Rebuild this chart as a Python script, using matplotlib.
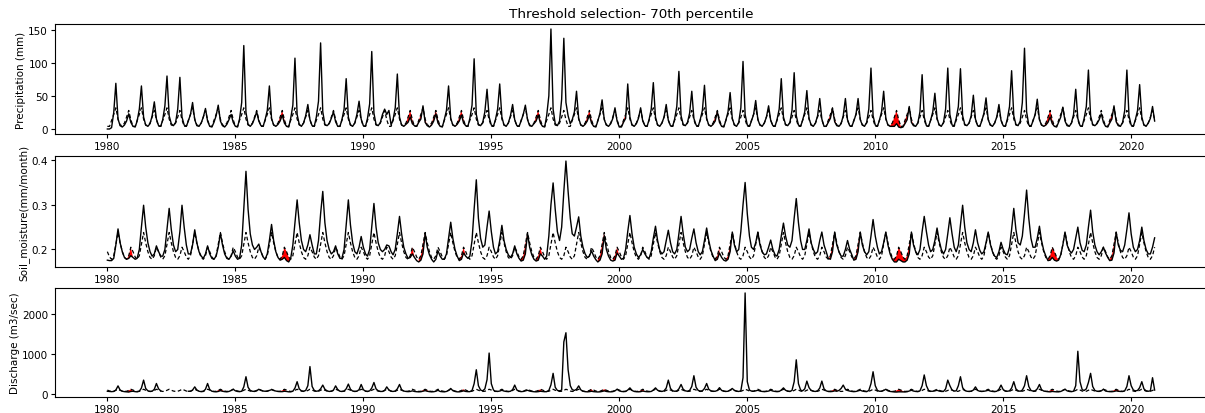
import numpy as np
import pandas as pd
import matplotlib
matplotlib.use("Agg")
import matplotlib.pyplot as plt
import matplotlib.dates as mdates
import matplotlib.ticker as mticker

nan = np.nan

# monthly values, one row per year 1980..2020 (Jan..Dec)
precip_mm = [
    [0, 0, 2, 25, 69, 15, 5, 3, 6, 12, 23, 10],  # 1980
    [4, 3, 12, 30, 65, 18, 6, 4, 8, 20, 41, 15],
    [5, 4, 14, 35, 80, 20, 8, 5, 10, 30, 78, 18],
    [6, 4, 12, 22, 40, 14, 5, 4, 9, 18, 31, 12],
    [4, 3, 10, 20, 36, 12, 5, 3, 7, 14, 22, 10],
    [4, 3, 15, 40, 126, 25, 7, 4, 8, 16, 26, 12],  # 1985
    [5, 4, 14, 28, 65, 16, 6, 4, 7, 12, 21, 9],
    [4, 3, 16, 36, 107, 22, 7, 4, 9, 20, 37, 14],
    [5, 4, 18, 42, 130, 26, 7, 5, 8, 16, 26, 11],
    [4, 4, 14, 30, 76, 18, 6, 4, 9, 22, 42, 15],
    [5, 4, 16, 38, 117, 24, 7, 5, 10, 22, 30, 22],  # 1990
    [28, 6, 14, 32, 83, 18, 6, 4, 7, 10, 18, 8],
    [5, 4, 10, 15, 35, 10, 5, 3, 6, 12, 23, 9],
    [4, 3, 14, 28, 65, 16, 6, 4, 7, 12, 21, 9],
    [5, 4, 16, 36, 106, 22, 7, 5, 10, 26, 60, 18],
    [6, 4, 14, 30, 68, 18, 6, 4, 9, 20, 37, 14],  # 1995
    [5, 4, 12, 22, 36, 14, 5, 4, 8, 12, 21, 9],
    [4, 3, 20, 50, 151, 30, 8, 5, 12, 45, 137, 40],
    [20, 8, 14, 26, 57, 16, 6, 4, 7, 12, 21, 9],
    [4, 3, 12, 24, 44, 14, 6, 4, 8, 16, 32, 12],
    [3, 3, 10, 16, 68, 18, 6, 4, 8, 16, 32, 12],  # 2000
    [5, 4, 14, 30, 70, 18, 6, 4, 9, 18, 37, 13],
    [5, 4, 15, 34, 87, 20, 7, 5, 10, 24, 57, 16],
    [6, 4, 14, 28, 66, 16, 6, 4, 7, 12, 26, 10],
    [4, 3, 13, 26, 55, 16, 6, 4, 10, 32, 102, 22],
    [6, 4, 12, 22, 43, 14, 6, 4, 9, 18, 35, 13],  # 2005
    [5, 4, 14, 30, 76, 18, 7, 5, 10, 28, 85, 20],
    [6, 4, 13, 26, 58, 16, 6, 4, 9, 20, 46, 15],
    [4, 4, 10, 16, 31, 11, 5, 4, 8, 20, 46, 14],
    [5, 4, 12, 22, 46, 14, 6, 4, 10, 30, 92, 20],
    [6, 4, 13, 26, 57, 16, 6, 4, 4, 4, 8, 3],  # 2010
    [2, 3, 8, 14, 34, 10, 5, 4, 9, 26, 82, 18],
    [5, 4, 13, 26, 54, 16, 6, 4, 10, 30, 92, 22],
    [6, 5, 16, 34, 91, 20, 7, 5, 9, 20, 51, 15],
    [5, 4, 12, 24, 47, 14, 6, 4, 9, 18, 37, 13],
    [5, 4, 15, 34, 88, 20, 7, 5, 12, 40, 122, 26],  # 2015
    [6, 4, 12, 22, 45, 14, 6, 4, 6, 10, 18, 8],
    [4, 3, 10, 18, 33, 12, 5, 4, 9, 22, 60, 16],
    [5, 4, 16, 34, 89, 20, 7, 5, 8, 14, 23, 10],
    [4, 3, 9, 15, 35, 11, 5, 4, 10, 28, 89, 20],
    [6, 4, 14, 28, 67, 18, 6, 4, 9, 16, 34, 12],  # 2020
]

soil_moisture = [
    [.176, .175, .175, .18, .21, .246, .215, .195, .182, .178, .18, .186],  # 1980
    [.182, .178, .18, .2, .25, .299, .25, .215, .195, .185, .19, .208],
    [.195, .185, .185, .2, .245, .292, .245, .21, .195, .2, .24, .299],
    [.25, .21, .19, .19, .21, .244, .215, .195, .185, .18, .19, .208],
    [.19, .18, .178, .185, .205, .236, .21, .19, .18, .178, .185, .197],
    [.185, .178, .18, .21, .29, .375, .29, .235, .21, .2, .205, .212],  # 1985
    [.195, .183, .178, .19, .22, .256, .22, .195, .182, .176, .178, .182],
    [.175, .172, .18, .21, .26, .311, .26, .22, .2, .195, .21, .233],
    [.21, .19, .19, .22, .28, .33, .26, .22, .2, .19, .195, .208],
    [.19, .18, .18, .2, .255, .311, .255, .215, .195, .19, .205, .229],
    [.205, .19, .185, .2, .25, .303, .25, .215, .2, .195, .2, .21],  # 1990
    [.208, .195, .188, .2, .235, .274, .235, .205, .19, .18, .182, .19],
    [.182, .175, .172, .176, .19, .236, .205, .188, .178, .172, .178, .197],
    [.185, .178, .178, .19, .225, .261, .225, .2, .185, .175, .178, .192],
    [.185, .18, .185, .22, .29, .356, .27, .225, .205, .21, .25, .286],
    [.24, .205, .19, .195, .22, .254, .22, .2, .188, .182, .19, .208],  # 1995
    [.19, .18, .174, .176, .19, .236, .205, .188, .178, .174, .176, .19],
    [.185, .178, .185, .23, .3, .349, .29, .24, .22, .25, .33, .398],
    [.33, .27, .235, .23, .25, .273, .23, .205, .19, .182, .185, .197],
    [.185, .177, .172, .176, .19, .231, .2, .185, .176, .174, .176, .192],
    [.185, .178, .18, .2, .24, .276, .235, .205, .19, .182, .188, .2],  # 2000
    [.19, .182, .18, .195, .225, .252, .22, .198, .19, .195, .22, .243],
    [.215, .195, .19, .2, .235, .274, .235, .205, .195, .2, .225, .246],
    [.215, .195, .188, .195, .22, .248, .22, .198, .185, .175, .178, .192],
    [.182, .176, .174, .178, .195, .239, .21, .195, .2, .24, .3, .35],
    [.28, .23, .205, .2, .215, .239, .21, .195, .188, .19, .205, .221],  # 2005
    [.2, .188, .185, .2, .23, .259, .23, .21, .205, .22, .27, .314],
    [.26, .22, .2, .2, .22, .246, .215, .2, .19, .195, .22, .239],
    [.21, .195, .18, .178, .195, .239, .21, .195, .185, .185, .2, .22],
    [.2, .188, .176, .178, .195, .239, .21, .195, .188, .195, .23, .267],
    [.23, .205, .19, .195, .215, .239, .21, .19, .178, .172, .172, .178],  # 2010
    [.175, .172, .172, .176, .19, .239, .21, .195, .188, .2, .24, .274],
    [.24, .21, .195, .2, .22, .248, .22, .2, .19, .2, .235, .271],
    [.235, .205, .195, .21, .255, .299, .25, .215, .2, .195, .215, .244],
    [.215, .198, .19, .195, .215, .239, .212, .195, .185, .182, .195, .216],
    [.2, .19, .188, .205, .245, .292, .245, .215, .21, .23, .28, .333],  # 2015
    [.27, .225, .205, .205, .225, .252, .22, .198, .185, .175, .176, .182],
    [.176, .174, .176, .188, .21, .239, .21, .198, .192, .2, .225, .25],
    [.215, .198, .195, .21, .25, .288, .24, .21, .195, .188, .195, .205],
    [.192, .182, .175, .176, .192, .239, .21, .198, .195, .21, .245, .282],
    [.235, .205, .195, .2, .22, .25, .22, .2, .19, .19, .205, .226],  # 2020
]

discharge = [
    [60, 55, 50, 55, 90, 195, 90, 60, 50, 45, 40, 55],  # 1980
    [60, 50, 45, 60, 140, 340, 130, 70, 55, 60, 110, 255],
    [120, 70, nan, nan, nan, nan, nan, nan, nan, nan, nan, nan],
    [nan, nan, 60, 60, 90, 170, 90, 60, 50, 55, 110, 255],
    [100, 60, 50, 45, 55, 75, 60, 50, 45, 55, 80, 110],
    [70, 55, 50, 60, 170, 425, 160, 80, 60, 55, 70, 110],  # 1985
    [80, 65, 60, 65, 80, 100, 80, 65, 55, 50, 50, 60],
    [55, 45, 45, 60, 140, 300, 120, 70, 60, 80, 200, 680],
    [180, 80, 60, 70, 120, 215, 110, 70, 55, 60, 90, 195],
    [100, 60, 55, 65, 120, 240, 110, 65, 55, 60, 100, 230],
    [100, 60, 55, 70, 140, 280, 120, 70, 55, 55, 80, 170],  # 1990
    [90, 60, 55, 65, 120, 230, 100, 65, 55, 50, 55, 70],
    [55, 48, 45, 48, 60, 75, 60, 50, 45, 48, 60, 85],
    [55, 48, 45, 55, 80, 130, 75, 55, 45, 45, 55, 70],
    [55, 50, 50, 80, 250, 600, 200, 90, 70, 120, 350, 1020],
    [250, 90, 60, 55, 65, 85, 65, 55, 50, 60, 100, 215],  # 1995
    [90, 60, 50, 55, 70, 85, 65, 55, 48, 45, 50, 60],
    [55, 48, 50, 80, 220, 510, 160, 80, 70, 90, 1300, 1530],
    [600, 200, 100, 80, 110, 195, 95, 60, 50, 45, 50, 60],
    [50, 45, 42, 45, 55, 70, 55, 48, 45, 50, 70, 110],
    [70, 55, 50, 55, 90, 145, 80, 55, 48, 45, 50, 65],  # 2000
    [55, 48, 48, 55, 90, 145, 85, 60, 55, 70, 140, 340],
    [130, 70, 60, 65, 120, 230, 110, 70, 60, 80, 180, 450],
    [160, 80, 65, 70, 130, 255, 110, 70, 60, 60, 80, 150],
    [80, 60, 55, 60, 90, 130, 80, 60, 55, 70, 400, 2530],
    [300, 90, 65, 60, 70, 85, 65, 55, 50, 55, 65, 85],  # 2005
    [65, 55, 50, 55, 90, 145, 85, 60, 55, 80, 300, 850],
    [250, 90, 70, 120, 315, 150, 80, 60, 55, 70, 140, 315],
    [120, 70, 55, 50, 55, 70, 60, 80, 130, 215, 110, 80],
    [65, 55, 50, 55, 70, 85, 65, 55, 50, 80, 250, 550],
    [200, 80, 60, 60, 80, 110, 70, 55, 48, 42, 40, 45],  # 2010
    [45, 42, 42, 48, 65, 85, 65, 55, 50, 70, 200, 470],
    [200, 80, 60, 60, 70, 85, 65, 55, 55, 120, 340, 200],
    [90, 65, 70, 200, 425, 150, 80, 60, 55, 60, 90, 170],
    [80, 60, 55, 60, 70, 85, 65, 55, 50, 60, 110, 215],
    [100, 65, 60, 70, 140, 300, 120, 70, 60, 90, 200, 450],  # 2015
    [180, 80, 65, 70, 120, 230, 100, 65, 55, 48, 45, 55],
    [50, 45, 45, 55, 80, 110, 70, 55, 50, 60, 200, 1065],
    [300, 100, 80, 120, 280, 510, 180, 80, 60, 55, 70, 110],
    [65, 55, 50, 48, 55, 70, 60, 55, 55, 70, 180, 450],
    [200, 90, 70, 80, 150, 300, 120, 70, 60, 70, 400, 90],  # 2020
]

# 70th percentile threshold per calendar month (Jan..Dec)
precip_thr = [4, 4, 13, 22, 32, 15, 6, 5, 9, 18, 28, 14]
soil_thr = [.195, .183, .178, .186, .212, .238, .215, .195, .182, .178, .186, .205]
discharge_thr = [90, 65, 55, 60, 85, 110, 85, 65, 55, 60, 80, 110]

# drought events (shaded red below the threshold)
precip_events = [("1986-09", "1986-12"), ("1991-09", "1991-12"), ("1992-02", "1992-06"),
                 ("1992-09", "1992-12"), ("1993-09", "1993-12"), ("1996-09", "1996-12"),
                 ("1998-09", "1998-12"), ("2000-02", "2000-06"), ("2003-09", "2003-12"),
                 ("2008-02", "2008-06"), ("2010-08", "2011-06"), ("2016-09", "2016-12"),
                 ("2019-02", "2019-06")]
soil_events = [("1980-10", "1980-12"), ("1986-10", "1987-02"), ("1991-10", "1991-12"),
               ("1992-03", "1992-06"), ("1993-10", "1993-12"), ("1996-03", "1996-06"),
               ("1996-10", "1996-12"), ("1999-03", "1999-06"), ("1999-10", "1999-12"),
               ("2003-10", "2003-12"), ("2004-03", "2004-06"), ("2008-03", "2008-06"),
               ("2009-03", "2009-06"), ("2010-09", "2011-06"), ("2016-10", "2017-02"),
               ("2019-03", "2019-06")]
discharge_events = [("1980-10", "1980-12"), ("1984-04", "1984-07"), ("1986-10", "1986-12"),
                    ("1992-04", "1992-07"), ("1993-10", "1993-12"), ("1996-10", "1996-12"),
                    ("1998-10", "1998-12"), ("1999-04", "1999-07"), ("2000-10", "2000-12"),
                    ("2008-04", "2008-07"), ("2010-08", "2011-02"), ("2016-10", "2016-12"),
                    ("2019-04", "2019-07")]

dates = pd.date_range("1980-01-01", periods=41 * 12, freq="MS")

panels = [
    ("Precipitation (mm)", precip_mm, precip_thr, precip_events, 50),
    ("Soil_moisture(mm/month)", soil_moisture, soil_thr, soil_events, 0.1),
    ("Discharge (m3/sec)", discharge, discharge_thr, discharge_events, 1000),
]

W, H = 1205, 414
fig = plt.figure(figsize=(W / 100, H / 100), dpi=100)
boxes = [(25, 135), (157, 268), (289, 398)]  # top/bottom in pixels

for (label, vals, thr, events, step), (top, bot) in zip(panels, boxes):
    ax = fig.add_axes([55 / W, 1 - bot / H, 1152 / W, (bot - top) / H])
    series = np.array(vals, dtype=float).ravel()
    threshold = np.tile(thr, 41).astype(float)

    in_event = np.zeros(len(dates), dtype=bool)
    for start, end in events:
        in_event |= (dates >= pd.Timestamp(start)) & (dates <= pd.Timestamp(end) + pd.offsets.MonthEnd(0))

    ax.plot(dates, series, color="black", lw=1.0)
    ax.plot(dates, threshold, color="black", lw=0.9, ls=(0, (3, 2)))
    ax.fill_between(dates, series, threshold, where=in_event & (series < threshold),
                    interpolate=True, color="red", lw=0)

    ax.set_ylabel(label, fontsize=7.5, labelpad=1.5)
    ax.yaxis.set_major_locator(mticker.MultipleLocator(step))
    ax.xaxis.set_major_locator(mdates.YearLocator(5))
    ax.xaxis.set_major_formatter(mdates.DateFormatter("%Y"))
    ax.tick_params(labelsize=7.5, length=3, pad=2)
    if label.startswith("Precip"):
        ax.set_title("Threshold selection- 70th percentile", fontsize=9.7, pad=5)

fig.savefig("out.png", dpi=100)
